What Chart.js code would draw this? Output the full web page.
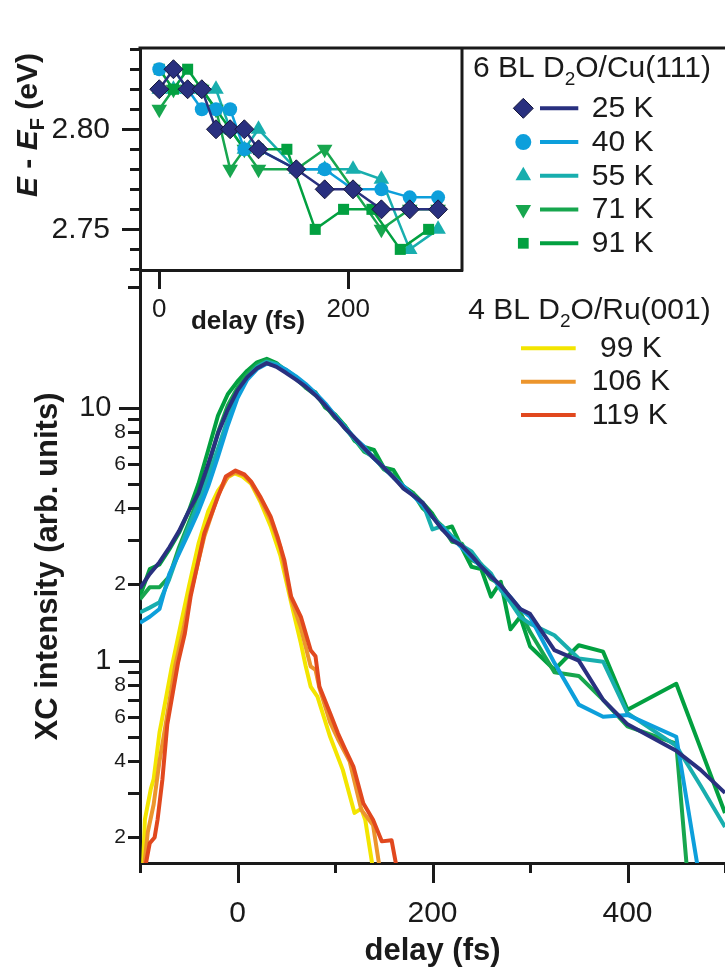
<!DOCTYPE html>
<html><head><meta charset="utf-8">
<script src="https://cdn.jsdelivr.net/npm/chart.js@4.4.1/dist/chart.umd.min.js"></script>
<style>
html,body{margin:0;padding:0;background:#fff;}
#wrap{position:relative;width:725px;height:972px;overflow:hidden;background:#fff;}
canvas{position:absolute;left:0;top:0;}
</style></head><body>
<div id="wrap">
<canvas id="main" width="725" height="972"></canvas>
<canvas id="inset" width="725" height="340"></canvas>
</div>
<script>
// ---------- main panel: XC intensity vs delay ----------
const cuX = [-100,-90,-80,-70,-60,-50,-40,-30,-20,-10,0,10,20,30,40,50,60,70,80,90,100,110,120,130,140,150,160,170,180,190,200,210,220,230,240,250,260,270,280,290,300,325,350,375,400,450,475,500];
const cu25 = [1.93,2.2,2.45,2.8,3.25,3.9,4.6,6.0,7.9,9.8,11.7,13.2,14.3,15.0,14.5,13.7,12.9,12.1,11.2,10.2,9.2,8.3,7.6,6.9,6.3,5.8,5.3,4.8,4.5,4.2,3.7,3.3,3.0,2.85,2.6,2.35,2.15,1.98,1.78,1.6,1.53,1.10,1.0,0.70,0.56,0.44,0.37,0.30];
const cu40 = [1.41,1.49,1.6,2.2,2.65,3.2,3.9,4.9,6.4,8.5,10.9,12.9,14.2,14.9,14.7,14.1,13.3,12.4,11.4,10.4,9.3,8.4,7.6,7.0,6.3,5.8,5.3,4.9,4.5,4.1,3.7,3.35,3.05,2.8,2.55,2.35,2.15,1.96,1.78,1.6,1.49,0.98,0.67,0.60,0.61,0.50,0.13,null];
const cu55 = [1.55,1.62,1.7,2.1,2.7,3.4,4.2,5.3,6.9,9.0,11.2,13.2,14.5,15.2,14.9,14.1,13.2,12.3,11.3,10.3,9.3,8.3,7.5,6.8,6.3,5.8,5.3,4.9,4.5,4.2,3.3,3.4,3.1,2.85,2.7,2.4,2.21,1.9,1.7,1.49,1.4,1.26,1.02,0.99,0.62,0.46,0.32,0.22];
const cu71 = [1.75,1.95,1.95,2.15,2.8,3.5,4.4,5.8,8.0,10.2,12.0,13.6,14.8,15.4,14.8,14.0,13.0,12.0,11.2,10.2,9.1,8.5,7.5,6.7,6.4,5.7,5.4,4.8,4.6,4.0,3.7,3.4,2.95,2.9,2.5,2.4,2.1,2.0,1.75,1.55,1.3,0.90,0.87,0.70,0.55,0.47,0.035,null];
const cu91 = [1.8,2.3,2.4,2.75,3.2,3.9,5.0,6.8,9.3,11.3,12.7,14.0,15.1,15.6,15.0,13.9,13.2,12.0,11.5,10.0,9.4,8.5,7.4,7.0,6.8,5.8,5.67,4.9,4.6,4.2,3.8,3.3,3.39,2.8,2.35,2.3,1.79,2.05,1.33,1.49,1.14,0.92,1.15,1.085,0.64,0.81,0.45,0.25];

const ru99x = [-97,-95,-89,-86,-80,-78,-68,-58,-50,-40,-30,-20,-10,-3,5,14,24,34,44,55,65,70,75,82,95,108,120,127,131,139];
const ru99y = [0.15,0.235,0.31,0.34,0.52,0.57,0.92,1.4,1.95,2.9,3.9,4.7,5.3,5.5,5.35,5.0,4.2,3.4,2.6,1.7,1.17,0.95,0.79,0.72,0.50,0.37,0.25,0.26,0.235,0.15];
const ru106x = [-96,-92,-86,-80,-74,-64,-56,-48,-34,-20,-10,-2,7,14,24,34,44,55,65,75,80,84,95,103,115,127,139,146];
const ru106y = [0.15,0.21,0.27,0.40,0.55,0.95,1.3,1.85,3.1,4.5,5.35,5.55,5.4,5.05,4.3,3.6,2.8,1.75,1.35,0.95,0.92,0.78,0.57,0.49,0.40,0.257,0.224,0.15];
const ru119x = [-95,-90,-85,-82,-77,-72,-61,-54,-48,-34,-20,-12,-2,7,14,24,34,41,48,55,65,75,80,84,95,103,110,119,129,139,148,158,165];
const ru119y = [0.15,0.19,0.20,0.235,0.34,0.56,0.98,1.28,1.8,3.19,4.45,5.34,5.64,5.45,5.10,4.4,3.71,3.09,2.5,1.79,1.49,1.10,1.04,0.79,0.62,0.516,0.45,0.38,0.273,0.235,0.193,0.195,0.14];

const cuLabels = ['25 K','40 K','55 K','71 K','91 K'];
const ruLabels = [' 99 K','106 K','119 K'];
const cuHeader = ['6 BL D','2','O/Cu(111)'];
const ruHeader = ['4 BL D','2','O/Ru(001)'];

const xTickValues = [-100,0,100,200,300,400,500];
const xLabeled = [0,200,400];
const yTickValues = [0.2,0.3,0.4,0.5,0.6,0.7,0.8,0.9,1,2,3,4,5,6,7,8,9,10,30];
const yMajor = [1,10];
const yLabeled = {0.2:'2',0.4:'4',0.6:'6',0.8:'8',1:'1\u2002',2:'2',4:'4',6:'6',8:'8',10:'10\u2002'};

// ---------- inset: E - E_F vs delay ----------
const inset25x = [0,15,30,45,60,75,90,105,145,175,205,235,265,295];
const inset25y = [2.82,2.83,2.82,2.82,2.80,2.80,2.80,2.79,2.78,2.77,2.77,2.76,2.76,2.76];
const inset40x = [0,15,30,45,60,75,90,105,145,175,205,235,265,295];
const inset40y = [2.83,2.83,2.82,2.81,2.81,2.81,2.79,2.79,2.78,2.78,2.77,2.77,2.766,2.766];
const inset55x = [0,15,30,45,60,75,90,105,145,175,205,235,265,295];
const inset55y = [2.82,2.82,2.82,2.82,2.82,2.80,2.79,2.80,2.78,2.78,2.78,2.775,2.74,2.75];
const inset71x = [0,15,30,45,60,75,90,105,145,175,205,235,265,295];
const inset71y = [2.81,2.82,2.82,2.82,2.81,2.78,2.79,2.78,2.78,2.79,2.77,2.75,2.76,2.76];
const inset91x = [0,15,30,45,60,75,90,105,135,165,195,225,255,285];
const inset91y = [2.83,2.82,2.83,2.82,2.81,2.80,2.79,2.79,2.79,2.75,2.76,2.76,2.74,2.75];

const insetXTicks = [0,200];
const insetYTicks = [2.73,2.74,2.75,2.76,2.77,2.78,2.79,2.80,2.81,2.82,2.83,2.84];
const insetYLabeled = [2.75,2.80];

// ---------- styles ----------
const INK = '#1a1a1a';
const FONT = '"Liberation Sans", Arial, Helvetica, sans-serif';
const C25='#29307F', C40='#0D9FDB', C55='#18AEAE', C71='#17A64E', C91='#02A040';
const C99='#F3E500', C106='#EC952C', C119='#E1481E';
const cuColors=[C25,C40,C55,C71,C91];
const ruColors=[C99,C106,C119];
const cuMarkers=[
  {style:'rectRot', r:10, rot:0, border:'#15173a', bw:1},
  {style:'circle', r:8, rot:0, border:null, bw:0},
  {style:'triangle', r:9, rot:0, border:null, bw:0},
  {style:'triangle', r:9, rot:180, border:null, bw:0},
  {style:'rect', r:7.6, rot:0, border:null, bw:0}
];
Chart.defaults.font.family = FONT;
Chart.defaults.color = INK;

const pts = (xs, ys) => xs.map((x,i)=>({x:x, y:ys[i]}));

const mainDatasets = [
  {label:'25 K', data:pts(cuX,cu25), borderColor:C25, order:0},
  {label:'40 K', data:pts(cuX,cu40), borderColor:C40, order:1},
  {label:'55 K', data:pts(cuX,cu55), borderColor:C55, order:2},
  {label:'71 K', data:pts(cuX,cu71), borderColor:C71, order:3},
  {label:'91 K', data:pts(cuX,cu91), borderColor:C91, order:4},
  {label:'119 K', data:pts(ru119x,ru119y), borderColor:C119, order:5},
  {label:'106 K', data:pts(ru106x,ru106y), borderColor:C106, order:6},
  {label:'99 K', data:pts(ru99x,ru99y), borderColor:C99, order:7}
].map(d=>Object.assign({fill:false, pointRadius:0, borderWidth:4, tension:0, spanGaps:false, borderJoinStyle:'round'}, d));

function drawMarker(ctx, m, x, y, fill){
  ctx.beginPath();
  const r=m.r;
  if (m.style==='circle') ctx.arc(x,y,r,0,2*Math.PI);
  else if (m.style==='rectRot'){ ctx.moveTo(x,y-r); ctx.lineTo(x+r,y); ctx.lineTo(x,y+r); ctx.lineTo(x-r,y); ctx.closePath(); }
  else if (m.style==='rect'){ const s=r*Math.SQRT1_2; ctx.rect(x-s,y-s,2*s,2*s); }
  else { let a=m.rot*Math.PI/180; for(let i=0;i<3;i++){ const px=x+Math.sin(a)*r, py=y-Math.cos(a)*r; if(i) ctx.lineTo(px,py); else ctx.moveTo(px,py); a+=2*Math.PI/3; } ctx.closePath(); }
  ctx.fillStyle=fill; ctx.fill();
  if (m.bw>0){ ctx.lineWidth=m.bw; ctx.strokeStyle=m.border; ctx.stroke(); }
}
function drawHeader(ctx, parts, x, base){
  ctx.textAlign='left'; ctx.textBaseline='alphabetic'; ctx.fillStyle=INK;
  ctx.font='30px '+FONT; ctx.fillText(parts[0], x, base); x+=ctx.measureText(parts[0]).width;
  ctx.font='19px '+FONT; ctx.fillText(parts[1], x, base+8); x+=ctx.measureText(parts[1]).width;
  ctx.font='30px '+FONT; ctx.fillText(parts[2], x, base);
}

const mainPlugin = {
  id:'mainExtras',
  afterDraw(chart){
    const {ctx, chartArea:a, scales:{x,y}} = chart;
    ctx.save();
    ctx.strokeStyle=INK; ctx.lineWidth=3; ctx.lineCap='butt';
    ctx.beginPath();
    for (const v of yTickValues){ const py=Math.round(y.getPixelForValue(v))+0.5; const len=yMajor.includes(v)?21:12; ctx.moveTo(a.left-len,py); ctx.lineTo(a.left,py); }
    for (const v of xTickValues){ const px=Math.round(x.getPixelForValue(v))+0.5; const len=xLabeled.includes(v)?20:10; ctx.moveTo(px,a.bottom); ctx.lineTo(px,a.bottom+len); }
    ctx.stroke();
    // legend
    drawHeader(ctx, cuHeader, 473, 77);
    cuLabels.forEach((lab,i)=>{
      const cy = 108.3 + i*33.75;
      drawMarker(ctx, cuMarkers[i], 523.3, cy, cuColors[i]);
      ctx.beginPath(); ctx.strokeStyle=cuColors[i]; ctx.lineWidth=4; ctx.moveTo(540,cy); ctx.lineTo(578.3,cy); ctx.stroke();
      ctx.fillStyle=INK; ctx.font='30px '+FONT; ctx.textAlign='left'; ctx.textBaseline='middle';
      ctx.fillText(lab, 591.7, cy+0.5);
    });
    drawHeader(ctx, ruHeader, 468.3, 318.5);
    ruLabels.forEach((lab,i)=>{
      const cy = 348.3 + i*33.4;
      ctx.beginPath(); ctx.strokeStyle=ruColors[i]; ctx.lineWidth=4; ctx.moveTo(521,cy); ctx.lineTo(575.7,cy); ctx.stroke();
      ctx.fillStyle=INK; ctx.font='30px '+FONT; ctx.textAlign='left'; ctx.textBaseline='middle';
      ctx.fillText(lab, 591.7, cy+0.5);
    });
    ctx.restore();
  }
};

new Chart(document.getElementById('main'), {
  type:'line',
  data:{datasets:mainDatasets},
  options:{
    responsive:false, animation:false, events:[],
    layout:{padding:{top:270,left:0,right:0,bottom:0}},
    plugins:{legend:{display:false}, tooltip:{enabled:false}},
    scales:{
      x:{type:'linear', min:-100, max:500,
        afterBuildTicks:s=>{ s.ticks = xTickValues.map(v=>({value:v})); },
        afterFit:s=>{ s.height = 109; },
        grid:{display:true, drawOnChartArea:false, drawTicks:true, tickLength:33, tickColor:'rgba(0,0,0,0)'},
        border:{display:true, color:INK, width:3},
        ticks:{padding:0, autoSkip:false, maxRotation:0, color:INK, font:{size:30},
          callback:v=> xLabeled.includes(v) ? String(v) : ''},
        title:{display:true, text:'delay (fs)', color:INK, font:{size:31, weight:'bold'}, padding:{top:0,bottom:2}}
      },
      y:{type:'logarithmic', min:0.1585, max:35,
        afterBuildTicks:s=>{ s.ticks = yTickValues.map(v=>({value:v})); },
        afterFit:s=>{ s.width = 140; },
        grid:{display:true, drawOnChartArea:false, drawTicks:false},
        border:{display:true, color:INK, width:3},
        ticks:{padding:14, autoSkip:false, color:INK,
          font:c=>({size: yMajor.includes(c.tick && c.tick.value) ? 29 : 21}),
          callback:v=> (yLabeled[v] !== undefined ? yLabeled[v] : '')},
        title:{display:true, text:'XC intensity (arb. units)', color:INK, font:{size:31, weight:'bold'}, padding:{top:30,bottom:0}}
      }
    }
  },
  plugins:[mainPlugin]
});

// ---------- inset chart ----------
const mk = (label, xs, ys, color, m, order) => ({
  label, data:pts(xs,ys), borderColor:color, backgroundColor:color, borderWidth:2.5, tension:0, fill:false,
  pointStyle:m.style, pointRadius:m.r, pointRotation:m.rot, pointBackgroundColor:color,
  pointBorderColor:m.border||color, pointBorderWidth:m.bw, order
});
const insetDatasets = [
  mk('25 K', inset25x, inset25y, C25, {style:'rectRot', r:9.5, rot:0, border:'#15173a', bw:1}, 0),
  mk('40 K', inset40x, inset40y, C40, {style:'circle', r:7, rot:0, border:null, bw:0}, 1),
  mk('91 K', inset91x, inset91y, C91, {style:'rect', r:7.8, rot:0, border:null, bw:0}, 2),
  mk('71 K', inset71x, inset71y, C71, {style:'triangle', r:9, rot:180, border:null, bw:0}, 3),
  mk('55 K', inset55x, inset55y, C55, {style:'triangle', r:9, rot:0, border:null, bw:0}, 4)
];

const insetPlugin = {
  id:'insetExtras',
  afterDraw(chart){
    const {ctx, chartArea:a, scales:{x,y}} = chart;
    ctx.save();
    ctx.strokeStyle=INK; ctx.lineWidth=3; ctx.lineCap='butt';
    ctx.beginPath();
    for (const v of insetYTicks){ const py=Math.round(y.getPixelForValue(v))+0.5; const len=insetYLabeled.includes(v)?18:10; ctx.moveTo(a.left-len,py); ctx.lineTo(a.left,py); }
    for (const v of insetXTicks){ const px=Math.round(x.getPixelForValue(v))+0.5; ctx.moveTo(px,a.bottom); ctx.lineTo(px,a.bottom+19); }
    // frame: top line across, right line
    ctx.moveTo(a.left-1.5, a.top); ctx.lineTo(chart.width, a.top);
    ctx.moveTo(a.right, a.top); ctx.lineTo(a.right, a.bottom+1.5);
    ctx.stroke();
    // x title
    ctx.fillStyle=INK; ctx.textAlign='center'; ctx.textBaseline='alphabetic';
    ctx.font='bold 26px '+FONT; ctx.fillText('delay (fs)', 248, 329);
    // y title  E - E_F (eV)
    ctx.translate(37, 197); ctx.rotate(-Math.PI/2);
    ctx.textAlign='left';
    let cx=0;
    const seg=(t,f,dy)=>{ ctx.font=f; ctx.fillText(t,cx,dy); cx+=ctx.measureText(t).width; };
    seg('E','italic bold 30px '+FONT,0);
    seg(' - ','bold 30px '+FONT,0);
    seg('E','italic bold 30px '+FONT,0);
    seg('F','bold 20px '+FONT,7);
    seg(' (eV)','bold 30px '+FONT,0);
    ctx.restore();
  }
};

new Chart(document.getElementById('inset'), {
  type:'line',
  data:{datasets:insetDatasets},
  options:{
    responsive:false, animation:false, events:[],
    layout:{padding:{top:15,left:0,right:263,bottom:0}},
    plugins:{legend:{display:false}, tooltip:{enabled:false}},
    scales:{
      x:{type:'linear', min:-20.4, max:320.3,
        afterBuildTicks:s=>{ s.ticks = insetXTicks.map(v=>({value:v})); },
        afterFit:s=>{ s.height = 70; },
        grid:{display:true, drawOnChartArea:false, drawTicks:false},
        border:{display:true, color:INK, width:3},
        ticks:{padding:24, autoSkip:false, maxRotation:0, color:INK, font:{size:26}, callback:v=>String(v)}
      },
      y:{type:'linear', min:2.7297, max:2.8406,
        afterBuildTicks:s=>{ s.ticks = insetYTicks.map(v=>({value:v})); },
        afterFit:s=>{ s.width = 140; },
        grid:{display:true, drawOnChartArea:false, drawTicks:false},
        border:{display:true, color:INK, width:3},
        ticks:{padding:30, autoSkip:false, color:INK, font:{size:30},
          callback:v=> insetYLabeled.includes(v) ? v.toFixed(2) : ''}
      }
    }
  },
  plugins:[insetPlugin]
});
</script>
</body></html>
